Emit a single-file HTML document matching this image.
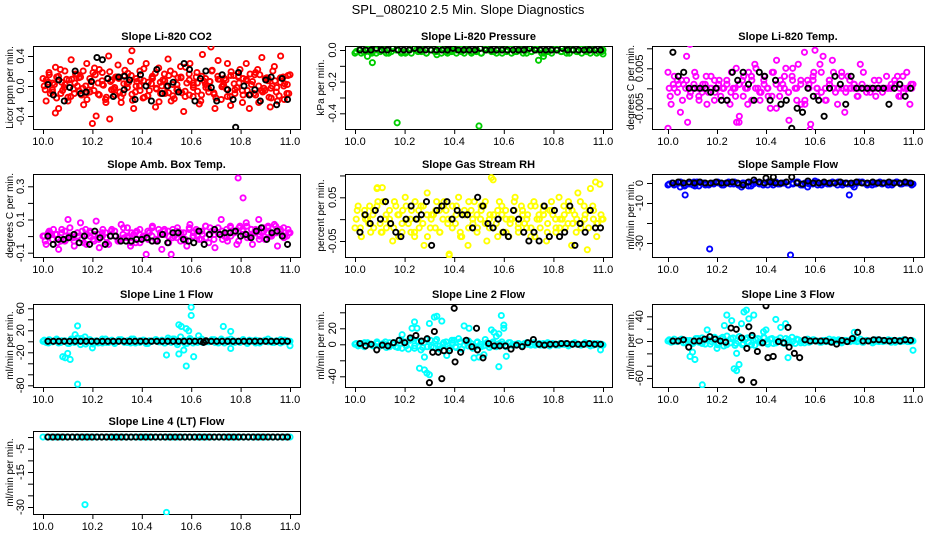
<!DOCTYPE html>
<html><head><meta charset="utf-8">
<style>
html,body{margin:0;padding:0;background:#fff;}
svg{display:block;font-family:"Liberation Sans",sans-serif;}
</style></head>
<body>
<svg id="chart" width="936" height="540" viewBox="0 0 936 540" xmlns="http://www.w3.org/2000/svg">
<rect x="0" y="0" width="936" height="540" fill="#fff"/>
<text x="468" y="14" text-anchor="middle" font-size="13">SPL_080210  2.5 Min. Slope Diagnostics</text>
</svg>
<script>
// ---- data ----
const xTicks = [10.0, 10.2, 10.4, 10.6, 10.8, 11.0];
const xTickLabels = ["10.0", "10.2", "10.4", "10.6", "10.8", "11.0"];

const co2Main = [0.1,-0.2,0.15,-0.05,0.25,-0.3,0.05,0.2,-0.15,0.35,-0.1,0.0,0.12,-0.25,0.3,-0.08,0.18,-0.4,0.22,0.02,-0.18,0.4,0.08,-0.12,0.28,-0.22,0.14,-0.02,0.33,-0.3,0.06,0.2,-0.16,0.3,-0.06,0.1,-0.28,0.24,0.0,-0.1,0.36,-0.2,0.16,-0.04,0.26,-0.34,0.04,0.3,-0.14,0.12,-0.24,0.42,0.02,-0.08,0.2,-0.3,0.34,-0.18,0.1,0.3,-0.26,0.14,-0.02,0.22,-0.12,0.3,-0.3,0.06,0.18,-0.22,0.38,-0.06,0.1,-0.16,0.26,-0.2,0.4,0.0,-0.1,0.15];
const co2Dense = [0.0,0.05,-0.08,0.12,-0.1,0.02,0.08,-0.04,0.15,-0.12,0.0,0.1,-0.06,0.04,0.18,-0.15,0.06,-0.02,0.1,-0.1,0.03,0.14,-0.08,0.0,0.07,-0.13,0.11,-0.03,0.05,0.16,-0.09,0.02,-0.05,0.12,-0.14,0.08,0.01,-0.07,0.13,-0.02,0.06,-0.11,0.09,0.0,-0.04,0.14,-0.1,0.04,0.1,-0.06,0.02,-0.12,0.15,-0.03,0.07,0.0,-0.08,0.11,0.03,-0.1];
const co2Dense2 = [-0.05,0.18,0.04,-0.16,0.22,-0.02,-0.2,0.09,0.16,-0.07,0.2,-0.18,0.01,0.24,-0.11,0.07,-0.22,0.19,-0.04,0.12,-0.15,0.21,0.05,-0.19,0.1,-0.06,0.23,-0.13,0.03,0.17,-0.21,0.08,-0.01,0.2,-0.17,0.11,-0.09,0.25,-0.12,0.04,0.18,-0.2,0.06,-0.03,0.21,-0.16,0.09,0.02,-0.14,0.19,-0.05,0.13,-0.22,0.07,0.16,-0.1,0.22,-0.06,0.1,-0.15,0.2,-0.02,0.05,-0.18,0.14];
const co2Dense3 = [0.08,-0.1,0.02,0.13,-0.06,0.09,-0.14,0.04,0.11,-0.03,-0.09,0.06,0.15,-0.12,0.01,0.1,-0.05,0.12,-0.08,0.03,0.17,-0.11,0.0,0.09,-0.15,0.05,0.13,-0.04,-0.1,0.07,0.14,-0.13,0.02,0.11,-0.07,0.16,-0.02,0.04,-0.12,0.1,0.06,-0.09,0.13,-0.01,0.08,-0.14,0.03,0.12,-0.06,0.09,-0.11,0.15,0.0,-0.08,0.11,-0.03,0.07,-0.13,0.12,0.02];
const co2OutX = [10.2,10.68,10.36,10.05,10.27,10.92];
const co2OutY = [-0.5,0.52,0.47,-0.36,-0.44,-0.28];
const co2Black = [0.02,-0.12,0.08,-0.2,-0.02,0.2,-0.1,-0.08,0.06,0.38,0.35,0.1,-0.14,0.12,-0.05,0.08,-0.18,0.15,0.0,-0.2,0.22,-0.1,0.0,0.05,-0.08,0.3,0.22,-0.2,0.1,0.2,-0.02,-0.2,0.15,-0.05,-0.18,0.18,0.0,-0.12,-0.05,-0.2,0.08,0.12,-0.25,0.1,-0.18];
const co2BlackOutX = [10.78,10.33];
const co2BlackOutY = [-0.55,0.13];

const presMain = [-0.02,0.0,-0.01,0.01,-0.02,0.0,-0.01,0.0,-0.02,0.01,0.0,-0.01,-0.02,0.0,0.01,-0.01,0.0,-0.02,0.0,-0.01,0.01,0.0,-0.02,-0.01,0.0,0.01,-0.02,0.0,-0.01,0.0,-0.02,0.01,0.0,-0.01,0.0,-0.02,0.0,0.01,-0.01,0.0,-0.02,0.0,-0.01,0.01,0.0,-0.02,-0.01,0.0,0.01,-0.01,0.0,-0.02,0.0,-0.01,0.01,0.0,-0.02,0.0,-0.01,0.0];
const presDense = [-0.01,-0.02,0.0,-0.01,-0.02,0.0,-0.02,-0.01,0.0,-0.02,-0.01,-0.02,0.0,-0.01,-0.02,0.0,-0.01,-0.02,-0.01,0.0,-0.02,-0.01,0.0,-0.02,-0.01,-0.02,0.0,-0.01,-0.02,0.0,-0.01,-0.02,-0.01,0.0,-0.02,-0.01,0.0,-0.02,-0.01,-0.02,0.0,-0.01,-0.02,0.0,-0.01,-0.02,-0.01,0.0,-0.02,-0.01];
const presOutX = [10.07,10.05,10.17,10.5,10.74,10.76,11.0,10.33];
const presOutY = [-0.08,-0.04,-0.46,-0.48,-0.065,-0.04,-0.025,-0.03];
const presBlack = [0,0,0,0.01,0,0,0.01,0,0,0,0.01,0,0,0,0,0,0,0.01,0,0,0,0,0.01,0,0,0,0,0,0,0,0,0.01,0,0,0,0,0,0.01,0,0,0,0,0,0,0];
const presBlackOutX = [];
const presBlackOutY = [];

const tempMain = [0.004,-0.004,0.0,0.002,-0.006,0.001,0.008,-0.002,0.0,0.003,-0.003,0.0,0.001,-0.001,0.0,0.002,0.0,-0.002,0.0,0.001,-0.004,0.0,0.005,-0.007,0.002,0.0,0.004,-0.003,0.006,0.0,-0.001,0.003,0.0,-0.005,0.004,0.007,-0.002,0.001,0.005,-0.008,0.003,0.0,0.006,-0.004,0.009,0.002,-0.009,0.004,0.0,0.006,0.008,-0.003,0.002,0.007,-0.001,0.0,0.004,-0.006,0.003,0.0,0.001,-0.002,0.006,0.004,0.0,0.0,0.0,-0.002,0.0,0.0,0.0,0.0,0.001,0.0,0.003,-0.002,0.0,0.004,-0.004,0.001];
const tempDense = [0.0,0.001,-0.001,0.002,0.0,-0.002,0.001,0.0,-0.001,0.003,0.0,-0.003,0.001,0.0,0.002,-0.001,0.0,0.001,-0.002,0.0,0.003,0.0,-0.001,0.002,0.0,-0.002,0.001,0.0,0.0,-0.001,0.002,0.0,0.001,-0.003,0.0,0.002,0.0,-0.001,0.0,0.001,0.0,0.0,0.0,0.0,0.0,0.001,0.0,0.0,-0.001,0.0,0.0,0.002,0.0,0.0,0.0,0.001,0.0,-0.001,0.0,0.0];
const tempDense2 = [-0.002,0.003,0.001,-0.003,0.002,-0.001,0.004,-0.002,0.001,-0.004,0.003,-0.001,0.002,0.0,-0.003,0.004,-0.002,0.001,0.003,-0.004,0.002,0.005,-0.003,0.001,-0.002,0.004,-0.005,0.002,0.003,-0.001,0.005,-0.003,0.002,-0.004,0.001,0.003,-0.002,0.004,-0.003,0.002,0.004,-0.004,0.003,-0.001,0.002,0.0,-0.002,0.001,0.0,-0.001,0.002,0.0,-0.001,0.003,0.0,0.002,-0.002,0.003,0.0,0.001];
const tempOutX = [10.09,10.0,10.08,10.28,10.29,10.6,10.58];
const tempOutY = [0.011,-0.010,-0.0085,-0.0085,-0.0085,0.0095,-0.0103];
const tempBlack = [0.009,0.003,0.004,0.0,0.0,0.0,0.0,-0.001,0.0,-0.003,-0.003,0.004,0.002,0.004,0.001,-0.003,0.004,0.003,-0.003,0.002,-0.004,-0.003,-0.01,-0.005,-0.006,0.0,-0.002,-0.003,-0.007,0.0,0.003,0.001,-0.004,0.003,0.0,0.0,0.0,0.0,0.0,0.0,-0.004,0.0,0.001,-0.002,0.0];
const tempBlackOutX = [];
const tempBlackOutY = [];

const ambMain = [0.0,-0.05,0.03,-0.02,0.01,-0.08,0.04,-0.03,0.1,0.0,-0.06,0.02,0.08,-0.04,0.01,0.03,-0.02,0.09,-0.07,0.0,0.02,-0.05,0.04,0.0,-0.03,0.07,-0.01,0.05,-0.06,0.01,0.03,-0.04,0.0,-0.11,0.02,0.06,-0.02,0.04,-0.08,0.01,0.03,-0.11,0.0,0.05,-0.03,0.02,-0.06,0.07,0.0,0.04,-0.02,0.01,0.06,-0.04,0.03,-0.07,0.02,0.1,0.0,-0.03,0.05,0.02,-0.05,0.06,0.03,0.08,0.0,-0.05,0.04,0.1,0.02,-0.02,0.06,0.0,0.07,-0.06,0.03,0.05,0.0,0.02];
const ambDense = [0.0,0.02,-0.02,0.01,-0.03,0.03,0.0,-0.01,0.02,-0.02,0.04,0.0,-0.03,0.01,0.02,-0.01,0.0,0.03,-0.02,0.01,0.0,-0.04,0.02,0.01,-0.01,0.03,0.0,-0.02,0.02,0.04,0.0,-0.01,0.03,0.01,-0.02,0.04,0.02,0.0,0.03,-0.01,0.05,0.01,0.02,-0.02,0.04,0.0,0.03,0.05,0.01,-0.01,0.04,0.02,0.0,0.03,0.05,0.01,0.02,0.04,0.0,0.02];
const ambDense2 = [-0.03,0.01,0.04,-0.04,0.02,-0.02,0.05,-0.03,0.0,0.03,-0.05,0.02,0.01,-0.02,0.04,-0.04,0.03,0.0,-0.03,0.05,-0.01,0.02,-0.04,0.04,0.0,-0.02,0.05,-0.03,0.01,0.03,-0.04,0.04,-0.01,0.02,-0.03,0.05,0.0,0.03,-0.02,0.06,0.01,-0.02,0.05,0.03,-0.01,0.06,0.02,-0.03,0.04,0.06,0.0,0.03,-0.02,0.05,0.02,0.0,0.06,0.03,-0.01,0.04];
const ambOutX = [10.79,10.81];
const ambOutY = [0.35,0.23];
const ambBlack = [0.0,-0.05,-0.02,-0.02,-0.01,0.01,-0.04,0.0,-0.05,0.03,-0.01,-0.05,0.0,0.0,-0.03,-0.03,-0.03,-0.02,-0.02,-0.01,-0.03,-0.03,0.01,-0.04,0.02,0.02,-0.02,-0.03,-0.04,0.03,-0.05,0.01,0.04,0.01,0.02,0.02,0.03,0.0,0.01,-0.01,0.03,0.05,-0.02,0.02,0.03,0.0,-0.05];
const ambBlackOutX = [];
const ambBlackOutY = [];

const rhMain = [-0.02,0.03,-0.04,0.01,0.0,-0.03,0.02,0.07,-0.01,0.04,-0.02,0.0,-0.05,0.03,0.01,-0.03,0.05,-0.01,0.02,-0.04,0.0,0.03,-0.06,0.06,-0.02,0.01,0.04,-0.03,0.0,0.02,-0.08,0.03,-0.01,0.05,-0.04,0.01,-0.06,0.02,0.04,-0.02,0.0,0.03,-0.05,0.01,0.09,-0.01,0.04,-0.03,0.02,-0.04,0.0,0.05,-0.02,0.03,-0.01,0.01,-0.04,0.04,0.0,-0.02,0.03,-0.05,0.02,0.01,-0.03,0.05,0.0,-0.02,0.04,-0.06,0.01,0.06,-0.01,0.03,-0.07,0.07,0.02,-0.04,0.08,0.0];
const rhDense = [0.0,-0.02,0.02,-0.01,0.01,0.03,-0.03,0.0,0.02,-0.02,0.01,-0.01,0.03,0.0,-0.03,0.02,-0.01,0.01,0.0,-0.02,0.02,0.03,-0.01,0.0,0.01,-0.03,0.02,-0.02,0.0,0.01,0.03,-0.01,0.0,-0.02,0.02,0.01,-0.03,0.0,0.02,-0.01,0.01,0.0,-0.02,0.03,0.0,0.01,-0.01,0.02,-0.02,0.0,0.01,0.02,-0.01,0.0,-0.02,0.01,0.02,0.0,-0.01,0.0];
const rhDense2 = [0.02,-0.04,0.0,0.03,-0.02,0.04,-0.03,0.01,-0.01,0.04,-0.04,0.02,0.0,-0.03,0.04,-0.02,0.03,-0.04,0.01,0.02,-0.03,0.04,0.0,-0.02,0.03,-0.04,0.01,0.04,-0.01,-0.03,0.02,0.04,-0.02,0.01,-0.04,0.03,0.0,-0.01,0.04,-0.03,0.02,-0.02,0.03,-0.04,0.01,0.02,-0.03,0.04,0.0,-0.02,0.03,-0.01,0.02,-0.03,0.04,0.0,-0.02,0.03,-0.01,0.01];
const rhOutX = [10.55,10.38,10.97,10.09,10.11];
const rhOutY = [0.095,-0.083,0.085,0.072,0.072];
const rhBlack = [-0.03,0.01,-0.01,0.02,0.0,0.04,-0.01,-0.03,-0.04,0.0,0.03,0.0,0.01,0.04,-0.06,0.02,0.03,0.04,0.0,0.02,0.01,0.01,-0.02,0.05,0.03,-0.01,-0.02,0.0,-0.03,-0.04,0.02,0.0,-0.03,-0.05,-0.03,-0.05,0.03,-0.04,0.02,-0.04,-0.03,0.03,-0.06,-0.01,-0.03,0.02,-0.02,-0.02];
const rhBlackOutX = [];
const rhBlackOutY = [];

const flowMain = [-1,0,-0.5,0.5,-1.5,0,-1,0.5,0,-1,-0.5,0,0.5,-1,0,-0.5,0.5,-1,0,0,-1.5,0.5,-0.5,0,-1,0,0.5,-0.5,0,-1,0,0.5,-1,0,-0.5,0,0.5,-1,0,-0.5,0,0.5,-1,0,-0.5,0,0.5,0,-1,0,-0.5,0.5,0,-1,0,0.5,-0.5,0,0,-0.5];
const flowDense = [-0.5,-1,0,-1,-0.5,0.5,-1.5,0,-1,-0.5,0,-1,0.5,-0.5,-1,0,-1.5,-0.5,0,-1,0.5,-1,-0.5,0,-1,-0.5,0.5,-1,0,-0.5,-1,0,-0.5,0.5,-1,0,-0.5,-1,0,0.5,-0.5,-1,0,-0.5,0,-1,0.5,-0.5,0,-1];
const flowOutX = [10.07,10.05,10.17,10.5,10.74,10.76,10.3,10.57,10.6,10.11];
const flowOutY = [-6,-2,-33,-36,-6,-2,-2,-2,1,-1.5];
const flowBlack = [0,0.5,0,0.5,0,0.5,0,0,0.5,0,0,0.5,0,-1,0.5,1.5,0.5,0,0.5,0,0,0.5,3,0,-0.5,1,0,0,0.5,0,0,0.5,0,0,0.5,0,0,0.5,0,0,0.5,0,0,0.5,0];
const flowBlackOutX = [10.4,10.43];
const flowBlackOutY = [2.5,3];

const l1Main = [0,-2,3,-1,2,-3,1,0,-4,4,-2,6,-6,2,-1,3,-5,1,0,-3,4,-2,2,-1,0,3,-2,1,-3,4,0,-2,2,-4,1,0,3,-1,2,-3,6,-2,4,-6,8,2,-4,5,-3,0,2,-2,1,-1,3,-2,0,4,-3,2,-1,1,0,-2,3,-1,2,0,-3,1,0,2,-1,1,-2,0,3,-1,1,0];
const l1Dense = [2,-3,0,4,-2,1,-4,3,-1,5,-5,2,0,-3,4,-2,1,-4,3,0,-2,4,-3,1,2,-4,0,3,-1,-3,2,4,-2,0,-4,3,1,-2,4,-1,0,3,-3,2,-1,4,-2,0,3,-4,1,2,-3,0,4,-2,1,-3,2,0];
const l1OutX = [10.14,10.14,10.09,10.1,10.11,10.08,10.13,10.17,10.55,10.56,10.58,10.6,10.6,10.59,10.58,10.55,10.57,10.5,10.61,10.73,10.76,10.76,11.0,10.63,10.2];
const l1OutY = [-78,28,-30,-22,-33,-28,12,8,30,27,23,47,62,19,-45,-23,-16,-25,-28,27,18,-13,-8,10,-12];
const l1Black = [0,0,0,0,0,0,0,0,0,0,0,0,0,0,0,0,0,0,0,0,0,0,0,0,0,0,0,0,0,0,0,0,0,0,0,0,0,0,0,0,0,0,0,0,0];
const l1BlackOutX = [10.66,10.65];
const l1BlackOutY = [1,-2];

const l2Main = [0,-2,1,-3,2,0,-1,3,-2,1,-4,2,0,-3,5,-5,3,-6,6,-2,4,-7,2,-3,5,-4,6,-2,0,3,-5,2,-3,7,-6,4,-2,1,-4,3,0,-2,2,-1,3,-3,1,0,-2,2,-1,0,1,-2,1,0,-1,2,0,-1,1,0,-2,1,0,-1,0,1,-1,0,2,0,-1,1,0,-2,1,0,0,-1];
const l2Dense = [1,-1,2,0,-2,1,-1,3,-3,2,-4,4,-2,5,-5,3,-4,6,-3,4,-6,2,-2,5,-4,3,-1,4,-5,2,-3,6,-4,1,-2,3,-3,2,-1,1,-2,2,0,-1,1,-1,2,0,-1,1,0,-2,1,0,-1,2,0,-1,1,0];
const l2OutX = [10.24,10.23,10.26,10.25,10.28,10.29,10.3,10.3,10.32,10.33,10.35,10.44,10.46,10.5,10.52,10.55,10.56,10.58,10.59,10.6,10.6,10.57,10.58,10.61,10.19,10.37,10.48,10.99,10.28,10.4];
const l2OutY = [28,20,-30,20,-32,-36,-38,26,34,35,29,23,20,-16,-13,18,15,-28,36,24,20,10,13,-15,12,-14,-17,-7,-16,5];
const l2Black = [1,-2,0,-7,-1,-2,2,5,2,8,11,4,7,-10,-10,-8,-8,-22,-10,5,-3,-7,-17,1,-2,-2,-2,-6,-1,-3,2,6,0,-1,0,0,1,1,0,0,0,1,0,0];
const l2BlackOutX = [10.4,10.3,10.35,10.32,10.49];
const l2BlackOutY = [45,-48,-43,16,20];

const l3Main = [0,-2,3,-1,2,-3,1,0,-4,4,-2,5,-5,2,-1,6,-6,4,-8,8,-3,5,-4,7,-6,3,-2,6,-7,4,-3,5,-2,3,-4,2,0,-3,4,-2,6,-4,2,0,-3,3,-1,2,0,-2,1,-1,3,-2,0,2,-3,1,-1,2,0,-1,3,-2,1,0,-3,2,-1,1,0,2,-2,1,0,-1,2,0,-1,0];
const l3Dense = [2,-1,0,3,-3,1,-2,4,-4,2,-5,5,-3,6,-6,4,-7,7,-4,5,-6,3,-2,6,-5,4,-3,5,-4,2,-1,3,-3,1,-2,2,0,-2,1,-1,2,0,-2,1,-1,3,0,-2,1,0,-1,2,-1,0,1,-2,1,0,-1,1];
const l3OutX = [10.14,10.09,10.1,10.11,10.23,10.24,10.26,10.27,10.28,10.28,10.29,10.3,10.31,10.32,10.33,10.35,10.4,10.44,10.46,10.48,10.49,10.16,10.39,10.76,11.0,10.2];
const l3OutY = [-71,-25,-18,-30,25,42,33,-45,-20,-48,-38,28,47,50,36,42,18,35,22,28,-27,18,15,14,-15,-12];
const l3Black = [0,0,2,-10,0,0,3,7,3,0,-2,21,19,5,-12,9,-17,-3,-27,-25,-1,-3,-10,-20,-27,2,0,0,0,0,-2,-5,1,-1,4,14,0,0,2,2,1,0,1,0,2,1];
const l3BlackOutX = [10.4,10.3,10.35,10.33,10.49];
const l3BlackOutY = [57,-63,-67,23,22];

const l4Main = [0,0,0,0,0,0,0,0,0,0,0,0,0,0,0,0,0,0,0,0,0,0,0,0,0,0,0,0,0,0,0,0,0,0,0,0,0,0,0,0,0,0,0,0,0,0,0,0,0,0,0,0,0,0,0,0,0,0,0,0];
const l4OutX = [10.17,10.5];
const l4OutY = [-29,-32.3];
const l4Black = [0,0,0,0,0,0,0,0,0,0,0,0,0,0,0,0,0,0,0,0,0,0,0,0,0,0,0,0,0,0,0,0,0,0,0,0,0,0,0,0,0,0,0,0,0,0,0,0,0,0];
const l4BlackOutX = [];
const l4BlackOutY = [];

// y tick values / labels per panel
const co2Ticks = [-0.4,-0.2,0,0.2,0.4];      const co2Labels = ["-0.4","","0.0","","0.4"];
const presTicks = [-0.4,-0.3,-0.2,-0.1,0];   const presLabels = ["-0.4","","-0.2","","0.0"];
const tempTicks = [-0.005,0,0.005,0.01];     const tempLabels = ["-0.005","","0.005",""];
const ambTicks = [-0.1,0,0.1,0.2,0.3];       const ambLabels = ["-0.1","","0.1","","0.3"];
const rhTicks = [-0.05,0,0.05,0.1];          const rhLabels = ["-0.05","","0.05",""];
const flowTicks = [-30,-20,-10,0];           const flowLabels = ["-30","","-10","0"];
const l1Ticks = [-80,-60,-40,-20,0,20,40,60]; const l1Labels = ["-80","","","-20","","20","","60"];
const l2Ticks = [-40,-20,0,20,40];           const l2Labels = ["-40","","0","20",""];
const l3Ticks = [-60,-40,-20,0,20,40];       const l3Labels = ["-60","","","0","","40"];
const l4Ticks = [-30,-25,-20,-15,-10,-5,0];  const l4Labels = ["-30","","","-15","","-5",""];

// ---- layout ----
const NS = "http://www.w3.org/2000/svg";
const svg = document.getElementById("chart");
const cols = [{bx0:33,bx1:300,x10:43,x11:290,lab:9},{bx0:345,bx1:612,x10:355,x11:603,lab:320},{bx0:652,bx1:924,x10:668,x11:913,lab:630}];
const rows = [46,174,304,431];
const BH = 83;

function mk(tag, attrs, parent) {
  const e = document.createElementNS(NS, tag);
  for (const k in attrs) e.setAttribute(k, attrs[k]);
  (parent || svg).appendChild(e);
  return e;
}

function panel(p) {
  const c = cols[p.col], top = rows[p.row], bot = top + BH;
  const g = mk("g", {});
  
  
  const xs = v => c.x10 + (v - 10) * (c.x11 - c.x10);
  const ys = v => p.py1 + (v - p.v1) * (p.py2 - p.py1) / (p.v2 - p.v1);
  const t = mk("text", {x:(c.bx0+c.bx1)/2, y:top-6, "text-anchor":"middle", "font-size":"11", "font-weight":"bold"}, g);
  t.textContent = p.title;
  
  
  const box = mk("rect", {x:c.bx0+0.5, y:top+0.5, width:c.bx1-c.bx0, height:BH, fill:"none", stroke:"#000", "stroke-width":"1"}, g);
  
  
  const yt = mk("text", {transform:`translate(${c.lab+4},${top+BH/2}) rotate(-90)`, "text-anchor":"middle", "font-size":"10"}, g);
  yt.textContent = p.ylab;
  
  
  const xa = mk("g", {}, g);
  
  
  mk("line", {x1:xs(xTicks[0]), x2:xs(xTicks[xTicks.length-1]), y1:bot+0.5, y2:bot+0.5, stroke:"#000"}, xa);
  xTicks.forEach((v,i) => {
    mk("line", {x1:xs(v)+0.5, x2:xs(v)+0.5, y1:bot, y2:bot+5, stroke:"#000"}, xa);
    const tl = mk("text", {x:xs(v), y:bot+16, "text-anchor":"middle", "font-size":"11"}, xa);
    tl.textContent = xTickLabels[i];
    
    
  });
  const ya = mk("g", {}, g);
  
  
  const tk = p.ticks;
  mk("line", {x1:c.bx0+0.5, x2:c.bx0+0.5, y1:ys(tk[0]), y2:ys(tk[tk.length-1]), stroke:"#000"}, ya);
  tk.forEach((v,i) => {
    const y = ys(v);
    mk("line", {x1:c.bx0-5, x2:c.bx0, y1:y+0.5, y2:y+0.5, stroke:"#000"}, ya);
    if (p.labels[i]) {
      const tl = mk("text", {transform:`translate(${c.bx0-9},${y}) rotate(-90)`, "text-anchor":"middle", "font-size":"11"}, ya);
      tl.textContent = p.labels[i];
      
      
    }
  });
  const clip = "clip-" + p.name;
  const cp = mk("clipPath", {id:clip}, g);
  mk("rect", {x:c.bx0, y:top, width:c.bx1-c.bx0+1, height:BH+1}, cp);
  const pts = mk("g", {"clip-path":`url(#${clip})`, fill:"none", "stroke-width":"1.9"}, g);
  function series(arr, x0, x1, color, nm) {
    const n = arr.length;
    arr.forEach((v,i) => {
      const xv = x0 + (n>1 ? i/(n-1) : 0) * (x1 - x0);
      const ci = mk("circle", {cx:xs(xv), cy:ys(v), r:2.6, stroke:color}, pts);
      
      
    });
  }
  function outl(xa2, ya2, color, nm) {
    xa2.forEach((xv,i) => {
      const ci = mk("circle", {cx:xs(xv), cy:ys(ya2[i]), r:2.6, stroke:color}, pts);
      
      
    });
  }
  series(p.main, 10.0, 11.0, p.color, p.name + '-point');
  (p.dense || []).forEach((d, k) => series(d, 10.005 + k*0.004, 10.995 - k*0.003, p.color, p.name + '-point'));
  outl(p.outX, p.outY, p.color, p.name + '-outlier');
  series(p.black, 10.02, 10.99, "#000", p.name + '-black-point');
  outl(p.bOutX, p.bOutY, "#000", p.name + '-black-outlier');
}

panel({name:"co2", col:0,row:0, title:"Slope Li-820 CO2", ylab:"Licor ppm per min.", v1:0.4,py1:56,v2:-0.4,py2:116, ticks:co2Ticks, labels:co2Labels, color:"#ff0000", main:co2Main, dense:[co2Dense,co2Dense2,co2Dense3], outX:co2OutX, outY:co2OutY, black:co2Black, bOutX:co2BlackOutX, bOutY:co2BlackOutY});
panel({name:"pressure", col:1,row:0, title:"Slope Li-820 Pressure", ylab:"kPa per min.", v1:0,py1:50,v2:-0.4,py2:113.3, ticks:presTicks, labels:presLabels, color:"#00cd00", main:presMain, dense:[presDense], outX:presOutX, outY:presOutY, black:presBlack, bOutX:presBlackOutX, bOutY:presBlackOutY});
panel({name:"li820-temp", col:2,row:0, title:"Slope Li-820 Temp.", ylab:"degrees C per min.", v1:0.005,py1:68.3,v2:-0.005,py2:108.3, ticks:tempTicks, labels:tempLabels, color:"#ff00ff", main:tempMain, dense:[tempDense,tempDense2], outX:tempOutX, outY:tempOutY, black:tempBlack, bOutX:tempBlackOutX, bOutY:tempBlackOutY});
panel({name:"amb-box-temp", col:0,row:1, title:"Slope Amb. Box Temp.", ylab:"degrees C per min.", v1:0.3,py1:186.3,v2:-0.1,py2:252.7, ticks:ambTicks, labels:ambLabels, color:"#ff00ff", main:ambMain, dense:[ambDense,ambDense2], outX:ambOutX, outY:ambOutY, black:ambBlack, bOutX:ambBlackOutX, bOutY:ambBlackOutY});
panel({name:"gas-stream-rh", col:1,row:1, title:"Slope Gas Stream RH", ylab:"percent per min.", v1:0.05,py1:197.3,v2:-0.05,py2:241, ticks:rhTicks, labels:rhLabels, color:"#ffff00", main:rhMain, dense:[rhDense,rhDense2], outX:rhOutX, outY:rhOutY, black:rhBlack, bOutX:rhBlackOutX, bOutY:rhBlackOutY});
panel({name:"sample-flow", col:2,row:1, title:"Slope Sample Flow", ylab:"ml/min per min.", v1:0,py1:183,v2:-30,py2:243, ticks:flowTicks, labels:flowLabels, color:"#0000ff", main:flowMain, dense:[flowDense], outX:flowOutX, outY:flowOutY, black:flowBlack, bOutX:flowBlackOutX, bOutY:flowBlackOutY});
panel({name:"line1-flow", col:0,row:2, title:"Slope Line 1 Flow", ylab:"ml/min per min.", v1:0,py1:341.3,v2:60,py2:308.3, ticks:l1Ticks, labels:l1Labels, color:"#00ffff", main:l1Main, dense:[l1Dense], outX:l1OutX, outY:l1OutY, black:l1Black, bOutX:l1BlackOutX, bOutY:l1BlackOutY});
panel({name:"line2-flow", col:1,row:2, title:"Slope Line 2 Flow", ylab:"ml/min per min.", v1:0,py1:344.3,v2:20,py2:328.3, ticks:l2Ticks, labels:l2Labels, color:"#00ffff", main:l2Main, dense:[l2Dense], outX:l2OutX, outY:l2OutY, black:l2Black, bOutX:l2BlackOutX, bOutY:l2BlackOutY});
panel({name:"line3-flow", col:2,row:2, title:"Slope Line 3 Flow", ylab:"ml/min per min.", v1:0,py1:341,v2:40,py2:316.3, ticks:l3Ticks, labels:l3Labels, color:"#00ffff", main:l3Main, dense:[l3Dense], outX:l3OutX, outY:l3OutY, black:l3Black, bOutX:l3BlackOutX, bOutY:l3BlackOutY});
panel({name:"line4-flow", col:0,row:3, title:"Slope Line 4 (LT) Flow", ylab:"ml/min per min.", v1:-5,py1:448.7,v2:-30,py2:507, ticks:l4Ticks, labels:l4Labels, color:"#00ffff", main:l4Main, outX:l4OutX, outY:l4OutY, black:l4Black, bOutX:l4BlackOutX, bOutY:l4BlackOutY});
</script>
</body></html>
